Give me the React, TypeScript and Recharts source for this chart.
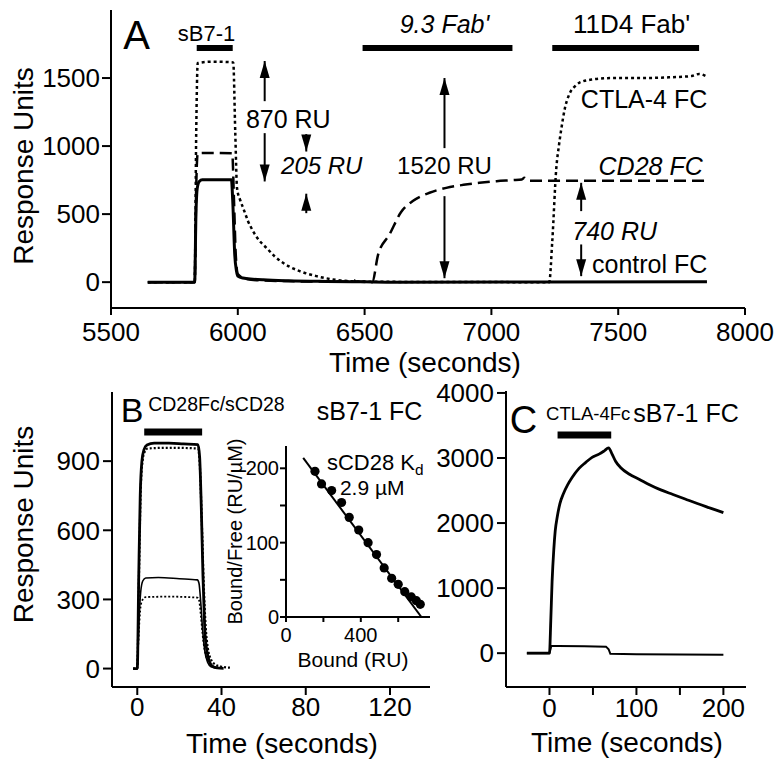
import React from 'react';
import {
  LineChart,
  ComposedChart,
  Line,
  Scatter,
  XAxis,
  YAxis,
  ReferenceLine,
  ReferenceDot,
} from 'recharts';

const FONT = '"Liberation Sans", Arial, Helvetica, sans-serif';

// ---------------- Panel A data ----------------
const aTimeTicks = [5500, 6000, 6500, 7000, 7500, 8000];
const aRuTicks = [0, 500, 1000, 1500];

const aControlFc = [
  [5645, 0], [5830, 0], [5835, 500], [5840, 690], [5848, 740], [5860, 752], [5975, 752],
  [5980, 600], [5988, 200], [5995, 80], [6000, 45], [6020, 30], [6060, 22], [6100, 17],
  [6200, 10], [6350, 5], [6500, 2], [6600, 0], [7850, 2],
];
const aCd28Fc = [
  [5645, 0], [5830, 0], [5836, 700], [5842, 948], [5900, 950], [5978, 948], [5985, 600],
  [5992, 200], [6000, 60], [6030, 25], [6100, 12], [6300, 5], [6440, 5], [6455, 20],
  [6465, 5], [6530, 0], [6553, 200], [6598, 350], [6644, 515], [6690, 596], [6756, 657],
  [6822, 693], [6890, 715], [6953, 730], [7020, 742], [7084, 750], [7120, 755], [7130, 767],
  [7143, 745], [7200, 745], [7850, 745],
];
const aCtla4Fc = [
  [5645, 0], [5830, 0], [5836, 1100], [5842, 1610], [5900, 1620], [5982, 1615], [5990, 1100],
  [5997, 690], [6010, 600], [6021, 546], [6040, 450], [6060, 375], [6085, 305], [6113, 252],
  [6145, 190], [6178, 142], [6210, 108], [6244, 81], [6310, 44], [6375, 20], [6441, 7],
  [6550, 3], [6800, 1], [7228, 0], [7240, 300], [7256, 840], [7266, 1000], [7276, 1130],
  [7290, 1280], [7307, 1380], [7330, 1440], [7346, 1465], [7400, 1490], [7476, 1500],
  [7600, 1500], [7700, 1505], [7790, 1515], [7819, 1530], [7845, 1515],
];
const aInjections = [
  { from: 5838, to: 5980 },
  { from: 6492, to: 7083 },
  { from: 7240, to: 7819 },
];
const aLabels = [
  { text: 'A', x: 5601, y: 1816, size: 40 },
  { text: 'sB7-1', x: 5877, y: 1827, size: 22 },
  { text: "9.3 Fab'", x: 6815, y: 1897, size: 25, italic: true },
  { text: "11D4 Fab'", x: 7553, y: 1897, size: 26 },
  { text: '870 RU', x: 6199, y: 1199, size: 25 },
  { text: '205 RU', x: 6331, y: 853, size: 24, italic: true },
  { text: '1520 RU', x: 6815, y: 853, size: 24 },
  { text: 'CTLA-4 FC', x: 7602, y: 1346, size: 25 },
  { text: 'CD28 FC', x: 7628, y: 853, size: 25, italic: true },
  { text: '740 RU', x: 7486, y: 375, size: 25, italic: true },
  { text: 'control FC', x: 7624, y: 132, size: 25 },
];
const aArrows = [
  { x: 6106, from: 1330, to: 1625 },
  { x: 6106, from: 1095, to: 740 },
  { x: 6270, from: 1088, to: 960 },
  { x: 6270, from: 507, to: 650 },
  { x: 6815, from: 985, to: 1500 },
  { x: 6815, from: 632, to: 29 },
  { x: 7354, from: 522, to: 730 },
  { x: 7354, from: 277, to: 44 },
];

// ---------------- Panel B data ----------------
const bTimeTicks = [0, 40, 80, 120];
const bRuTicks = [0, 300, 600, 900];
const bBigSolid = [
  [-2, 0], [0, 0], [0.7, 400], [1.4, 750], [2.2, 900], [3.2, 950], [4.6, 970], [8, 978],
  [15, 978], [22, 975], [28.8, 972], [29.6, 920], [30.4, 700], [31.2, 400], [32, 180],
  [33, 80], [34.5, 25], [36, 8], [38, 3], [41, 1],
];
const bBigDotted = [
  [-2, 0], [0, 0], [0.8, 400], [1.6, 760], [2.5, 900], [3.5, 940], [5, 955], [15, 958],
  [28.8, 955], [29.6, 900], [30.6, 650], [31.5, 380], [32.5, 180], [33.5, 90], [35, 40],
  [37, 18], [40, 8], [44, 4],
];
const bSmallSolid = [
  [0, 0], [0.8, 200], [1.6, 330], [2.6, 380], [4, 393], [10, 395], [20, 390], [28.5, 385],
  [29.3, 370], [30.2, 280], [31, 170], [32, 80], [33.5, 25], [35, 8], [38, 2],
];
const bSmallDotted = [
  [0, 0], [0.8, 170], [1.6, 270], [2.6, 300], [4, 310], [15, 312], [28.5, 308], [29.3, 298],
  [30.2, 230], [31, 150], [32, 80], [33.5, 35], [35, 15], [38, 5],
];
const bInjection = { from: 3.3, to: 30.8 };
const bLabels = [
  { text: 'B', x: -2.5, y: 1122, size: 34 },
  { text: 'CD28Fc/sCD28', x: 37.6, y: 1148, size: 19.5 },
  { text: 'sB7-1 FC', x: 110.3, y: 1117, size: 25 },
];

// ---------------- Inset (Scatchard) data ----------------
const insetBoundTicks = [0, 200, 400, 600];
const insetRatioTicks = [0, 50, 100, 150, 200];
const insetPoints = [
  [155, 196], [190, 179], [244, 170], [297, 154], [338, 134], [389, 117], [439, 100],
  [484, 84], [525, 66], [565, 52], [600, 44], [635, 34], [670, 27], [697, 22], [718, 17],
];
const insetFit = [
  [92, 214], [724, 0],
];
const insetLabels = [
  { text: 'sCD28 K', sub: 'd', x: 219, y: 208, size: 22, anchor: 'start' },
  { text: '2.9 \u00b5M', x: 461, y: 174, size: 21 },
];

// ---------------- Panel C data ----------------
const cTimeTicks = [0, 50, 100, 150, 200];
const cRuTicks = [0, 1000, 2000, 3000, 4000];
const cCtla4 = [
  [-26, 0], [0, 0], [1.5, 500], [3, 1100], [5, 1600], [6.6, 1880], [9, 2100], [12, 2300],
  [16, 2450], [21, 2590], [26, 2700], [34, 2840], [41.5, 2930], [49, 3010], [57, 3060],
  [63, 3110], [68, 3155], [72, 3060], [76, 2950], [82, 2850], [92, 2750], [103, 2675],
  [115, 2590], [128, 2510], [142, 2440], [156, 2370], [170, 2300], [185, 2230], [200, 2160],
];
const cControl = [
  [-26, 0], [0, 0], [2, 110], [10, 110], [40, 105], [65, 100], [68, 60], [70, -10],
  [100, -15], [150, -20], [200, -25],
];
const cInjection = { from: 9.3, to: 71 };
const cLabels = [
  { text: 'C', x: -30, y: 3583, size: 38 },
  { text: 'CTLA-4Fc', x: 44.5, y: 3683, size: 18.5 },
  { text: 'sB7-1 FC', x: 157, y: 3683, size: 25 },
];

// ---------------- helpers ----------------
const P = (arr: number[][]) => arr.map(([x, y]) => ({ x, y }));
const AX = { stroke: '#000', strokeWidth: 2 };

const textShape = (t: any) => (p: any) => (
  <text
    x={p.cx}
    y={p.cy}
    dy="0.35em"
    textAnchor={t.anchor || 'middle'}
    fontSize={t.size}
    fontStyle={t.italic ? 'italic' : 'normal'}
    fontFamily={FONT}
    fill="#000"
  >
    {t.text}
    {t.sub ? (
      <tspan fontSize={t.size * 0.7} dy="0.3em">
        {t.sub}
      </tspan>
    ) : null}
  </text>
);

const headShape = (up: boolean) => (p: any) => {
  const s = up ? 1 : -1;
  const { cx, cy } = p;
  return (
    <polygon
      points={`${cx},${cy} ${cx - 5},${cy + 17 * s} ${cx + 5},${cy + 17 * s}`}
      fill="#000"
    />
  );
};

const xTitle = (text: string, size: number, base: number, dx = 0) => ({
  content: (props: any) => {
    const vb = props.viewBox || { x: 0, y: 0, width: 0, height: 0 };
    return (
      <text
        x={vb.x + vb.width / 2 + dx}
        y={vb.y + base}
        textAnchor="middle"
        fontSize={size}
        fontFamily={FONT}
        fill="#000"
      >
        {text}
      </text>
    );
  },
});

const yTitle = (text: string, size: number, baseX: number, dy = 0) => ({
  content: (props: any) => {
    const vb = props.viewBox || { x: 0, y: 0, width: 0, height: 0 };
    const x = vb.x + baseX;
    const y = vb.y + vb.height / 2 + dy;
    return (
      <text
        x={x}
        y={y}
        transform={`rotate(-90 ${x} ${y})`}
        textAnchor="middle"
        fontSize={size}
        fontFamily={FONT}
        fill="#000"
      >
        {text}
      </text>
    );
  },
});

const tickStyle = (size: number) => ({ fill: '#000', fontSize: size, fontFamily: FONT });

function renderLabels(list: any[]) {
  return list.map((t, i) => (
    <ReferenceDot
      key={'t' + i}
      x={t.x}
      y={t.y}
      r={1}
      ifOverflow="visible"
      shape={textShape(t)}
    />
  ));
}

function renderArrows(list: any[]) {
  const out: any[] = [];
  list.forEach((a, i) => {
    const up = a.to > a.from;
    out.push(
      <ReferenceLine
        key={'s' + i}
        segment={[
          { x: a.x, y: a.from },
          { x: a.x, y: a.to },
        ]}
        stroke="#000"
        strokeWidth={2}
        ifOverflow="visible"
      />
    );
    out.push(
      <ReferenceDot
        key={'h' + i}
        x={a.x}
        y={a.to}
        r={1}
        ifOverflow="visible"
        shape={headShape(up)}
      />
    );
  });
  return out;
}

function injectionBar(key: string, inj: { from: number; to: number }, level: number, width: number) {
  return (
    <ReferenceLine
      key={key}
      segment={[
        { x: inj.from, y: level },
        { x: inj.to, y: level },
      ]}
      stroke="#000"
      strokeWidth={width}
      ifOverflow="visible"
    />
  );
}

const A_BAR_LEVEL = 1721;
const B_BAR_LEVEL = 1026;
const C_BAR_LEVEL = 3354;

export default function App() {
  const aXd: [number, number] = [5500, 8000];
  const aYd: [number, number] = [-190, 2000];
  const bXd: [number, number] = [-12, 139];
  const bYd: [number, number] = [-80, 1200];
  const cXd: [number, number] = [-50, 226];
  const cYd: [number, number] = [-520, 4030];
  const iXd: [number, number] = [0, 770];
  const iYd: [number, number] = [0, 230];

  return (
    <div
      style={{
        position: 'absolute',
        left: 0,
        top: 0,
        width: 775,
        height: 759,
        background: '#fff',
        fontFamily: FONT,
      }}
    >
      {/* Panel A */}
      <div style={{ position: 'absolute', left: 0, top: 0 }}>
        <LineChart width={775} height={380} margin={{ top: 10, right: 30, bottom: 0, left: 0 }}>
          <XAxis
            dataKey="x"
            type="number"
            domain={aXd}
            ticks={aTimeTicks}
            interval={0}
            allowDataOverflow
            height={72}
            axisLine={AX}
            tickLine={AX}
            tickSize={7}
            tickMargin={8}
            tick={tickStyle(26)}
            label={xTitle('Time (seconds)', 28, 64, -3)}
          />
          <XAxis xAxisId="top" orientation="top" type="number" domain={aXd} allowDataOverflow height={0} tick={false} tickLine={false} axisLine={AX} />
          <YAxis
            type="number"
            domain={aYd}
            ticks={aRuTicks}
            interval={0}
            allowDataOverflow
            width={111}
            axisLine={AX}
            tickLine={AX}
            tickSize={9}
            tickMargin={2}
            tick={tickStyle(26)}
            label={yTitle('Response Units', 28, 33, 7)}
          />
          <YAxis yAxisId="right" orientation="right" type="number" domain={aYd} allowDataOverflow width={0} tick={false} tickLine={false} axisLine={AX} />
          <Line data={P(aControlFc)} dataKey="y" type="monotone" stroke="#000" strokeWidth={3} dot={false} activeDot={false} isAnimationActive={false} />
          <Line data={P(aCd28Fc)} dataKey="y" type="monotone" stroke="#000" strokeWidth={2.5} strokeDasharray="12 6" dot={false} activeDot={false} isAnimationActive={false} />
          <Line data={P(aCtla4Fc)} dataKey="y" type="monotone" stroke="#000" strokeWidth={2.5} strokeDasharray="3 3" dot={false} activeDot={false} isAnimationActive={false} />
          {aInjections.map((inj, i) => injectionBar('ai' + i, inj, A_BAR_LEVEL, 6))}
          {renderArrows(aArrows)}
          {renderLabels(aLabels)}
        </LineChart>
      </div>

      {/* Panel B */}
      <div style={{ position: 'absolute', left: 0, top: 382 }}>
        <LineChart width={432} height={380} margin={{ top: 10, right: 2, bottom: 0, left: 0 }}>
          <XAxis
            dataKey="x"
            type="number"
            domain={bXd}
            ticks={bTimeTicks}
            interval={0}
            allowDataOverflow
            height={75}
            axisLine={AX}
            tickLine={AX}
            tickSize={8}
            tickMargin={3}
            tick={tickStyle(26)}
            label={xTitle('Time (seconds)', 28, 66, 11)}
          />
          <XAxis xAxisId="top" orientation="top" type="number" domain={bXd} allowDataOverflow height={0} tick={false} tickLine={false} axisLine={AX} />
          <YAxis
            type="number"
            domain={bYd}
            ticks={bRuTicks}
            interval={0}
            allowDataOverflow
            width={112}
            axisLine={AX}
            tickLine={AX}
            tickSize={9}
            tickMargin={3}
            tick={tickStyle(26)}
            label={yTitle('Response Units', 28, 33, -15)}
          />
          <YAxis yAxisId="right" orientation="right" type="number" domain={bYd} allowDataOverflow width={0} tick={false} tickLine={false} axisLine={AX} />
          <Line data={P(bSmallDotted)} dataKey="y" type="monotone" stroke="#000" strokeWidth={1.8} strokeDasharray="2 2" dot={false} activeDot={false} isAnimationActive={false} />
          <Line data={P(bSmallSolid)} dataKey="y" type="monotone" stroke="#000" strokeWidth={1.6} dot={false} activeDot={false} isAnimationActive={false} />
          <Line data={P(bBigDotted)} dataKey="y" type="monotone" stroke="#000" strokeWidth={2.2} strokeDasharray="2 2" dot={false} activeDot={false} isAnimationActive={false} />
          <Line data={P(bBigSolid)} dataKey="y" type="monotone" stroke="#000" strokeWidth={2.8} dot={false} activeDot={false} isAnimationActive={false} />
          {injectionBar('bi', bInjection, B_BAR_LEVEL, 7)}
          {renderLabels(bLabels)}
        </LineChart>
      </div>

      {/* Inset */}
      <div style={{ position: 'absolute', left: 200, top: 436 }}>
        <ComposedChart width={232} height={236} margin={{ top: 10, right: 2, bottom: 0, left: 0 }}>
          <XAxis
            dataKey="x"
            type="number"
            domain={iXd}
            ticks={insetBoundTicks}
            interval={0}
            allowDataOverflow
            height={55}
            axisLine={AX}
            tickLine={AX}
            tickSize={5}
            tickMargin={6}
            tick={tickStyle(20)}
            tickFormatter={(v: number) => (v % 400 === 0 ? String(v) : '')}
            label={xTitle('Bound (RU)', 21, 50, -5)}
          />
          <XAxis xAxisId="top" orientation="top" type="number" domain={iXd} allowDataOverflow height={0} tick={false} tickLine={false} axisLine={AX} />
          <YAxis
            dataKey="y"
            type="number"
            domain={iYd}
            ticks={insetRatioTicks}
            interval={0}
            allowDataOverflow
            width={86}
            axisLine={AX}
            tickLine={AX}
            tickSize={6}
            tickMargin={1}
            tick={tickStyle(20)}
            tickFormatter={(v: number) => (v % 100 === 0 ? String(v) : '')}
            label={yTitle('Bound/Free (RU/\u00b5M)', 20, 42, 0)}
          />
          <YAxis yAxisId="right" orientation="right" type="number" domain={iYd} allowDataOverflow width={0} tick={false} tickLine={false} axisLine={AX} />
          <Line data={P(insetFit)} dataKey="y" type="linear" stroke="#000" strokeWidth={2} dot={false} activeDot={false} isAnimationActive={false} />
          <Scatter
            data={P(insetPoints)}
            dataKey="y"
            fill="#000"
            isAnimationActive={false}
            shape={(p: any) => <circle cx={p.cx} cy={p.cy} r={4.6} fill="#000" />}
          />
          {renderLabels(insetLabels)}
        </ComposedChart>
      </div>

      {/* Panel C */}
      <div style={{ position: 'absolute', left: 400, top: 366 }}>
        <LineChart width={348} height={396} margin={{ top: 25, right: 2, bottom: 0, left: 0 }}>
          <XAxis
            dataKey="x"
            type="number"
            domain={cXd}
            ticks={cTimeTicks}
            interval={0}
            allowDataOverflow
            height={75}
            axisLine={AX}
            tickLine={AX}
            tickSize={8}
            tickMargin={4}
            tick={tickStyle(26)}
            tickFormatter={(v: number) => (v % 100 === 0 ? String(v) : '')}
            label={xTitle('Time (seconds)', 28, 65, 1)}
          />
          <XAxis xAxisId="top" orientation="top" type="number" domain={cXd} allowDataOverflow height={0} tick={false} tickLine={false} axisLine={AX} />
          <YAxis
            type="number"
            domain={cYd}
            ticks={cRuTicks}
            interval={0}
            allowDataOverflow
            width={106}
            axisLine={AX}
            tickLine={AX}
            tickSize={9}
            tickMargin={3}
            tick={tickStyle(26)}
          />
          <YAxis yAxisId="right" orientation="right" type="number" domain={cYd} allowDataOverflow width={0} tick={false} tickLine={false} axisLine={AX} />
          <Line data={P(cControl)} dataKey="y" type="linear" stroke="#000" strokeWidth={2} dot={false} activeDot={false} isAnimationActive={false} />
          <Line data={P(cCtla4)} dataKey="y" type="monotone" stroke="#000" strokeWidth={2.8} dot={false} activeDot={false} isAnimationActive={false} />
          {injectionBar('ci', cInjection, C_BAR_LEVEL, 7)}
          {renderLabels(cLabels)}
        </LineChart>
      </div>
    </div>
  );
}
